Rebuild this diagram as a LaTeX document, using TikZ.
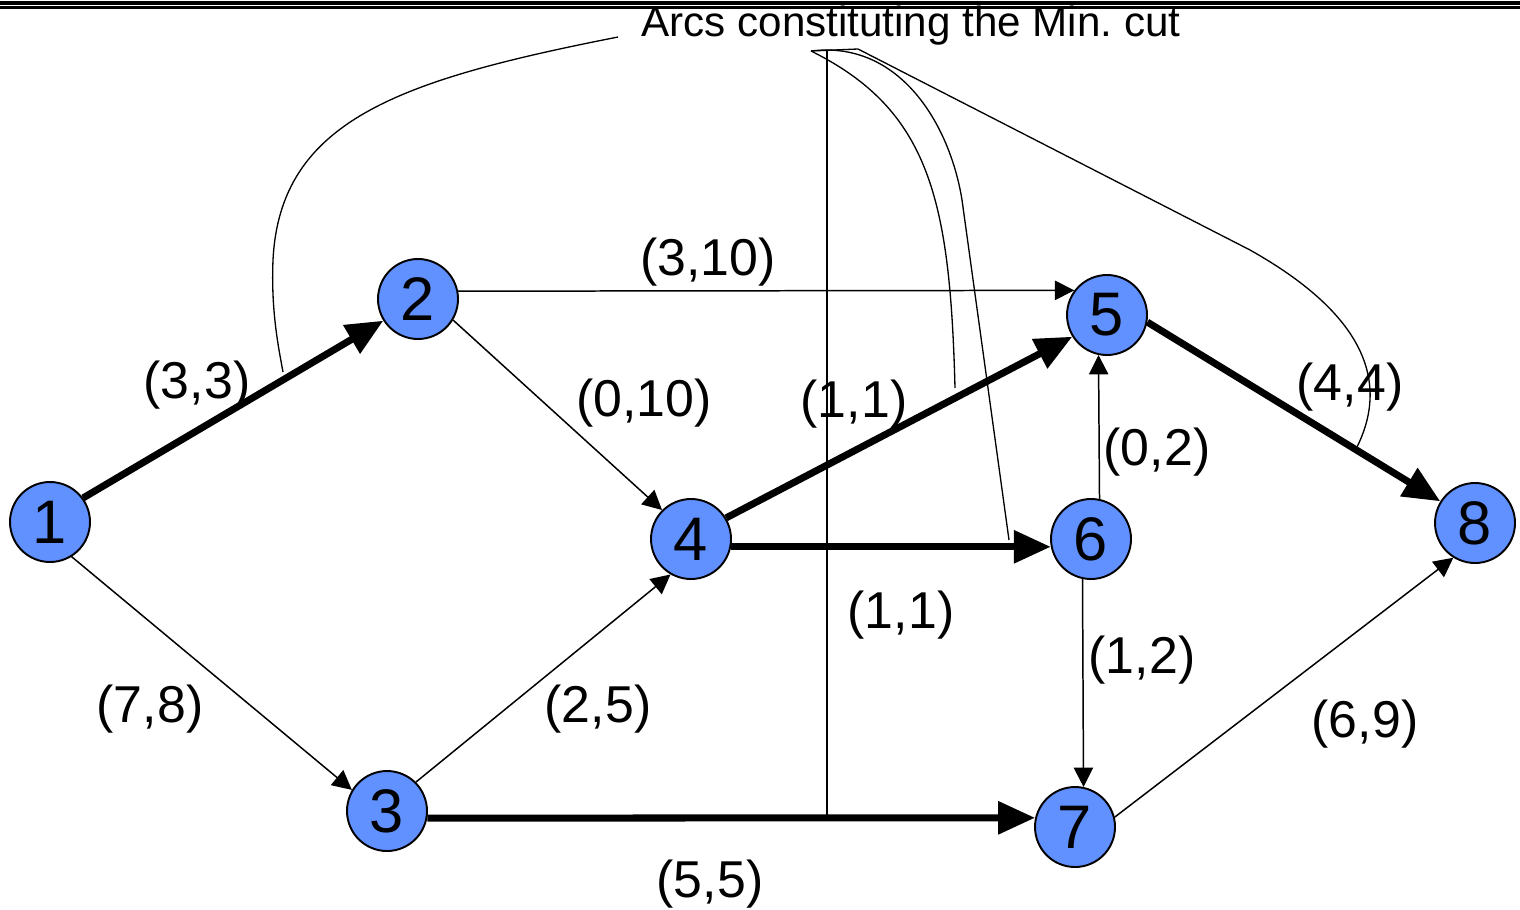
\documentclass[tikz,border=0pt]{standalone}
\usepackage{fontspec}
\setmainfont{Liberation Sans}
\usetikzlibrary{arrows.meta}
\definecolor{nodeblue}{RGB}{97,145,255}

\begin{document}
\begin{tikzpicture}[x=0.02cm, y=-0.02cm,
    vertex/.style={circle,draw,fill=nodeblue,line width=1.1pt,minimum size=1.6cm,
                   inner sep=0pt,font=\fontsize{35}{38}\selectfont},
    flow/.style={-{Triangle[length=11pt,width=11pt]},line width=0.85pt},
    cutflow/.style={-{Triangle[length=21pt,width=18pt]},line width=4pt},
    arclabel/.style={anchor=base,inner sep=0pt,font=\fontsize{29.5}{34}\selectfont},
    callout/.style={line width=0.75pt}
]
  \useasboundingbox (0,0) rectangle (1520,909);

  % Rules at the top
  \draw[line width=2.1pt] (0,2.8) -- (1520,2.8);
  \draw[line width=1.7pt] (0,7.5) -- (1520,7.5);

  % Nodes
  \node[vertex] (n1) at (50,522) {1};
  \node[vertex] (n2) at (418,299) {2};
  \node[vertex] (n3) at (387,811) {3};
  \node[vertex] (n4) at (691,539) {4};
  \node[vertex] (n5) at (1107,315) {5};
  \node[vertex] (n6) at (1091,539) {6};
  \node[vertex] (n7) at (1075,827) {7};
  \node[vertex] (n8) at (1475,523) {8};

  % Arcs not in the cut
  \draw[flow] (n1.-58) -- (n3.149);
  \draw[flow] (n2.11.5) -- (n5.143);
  \draw[flow] (n2.-31) -- (n4.135);
  \draw[flow] (n3.45) -- (n4.240);
  \draw[flow] (n6.78.5) -- (n5.258.5);
  \draw[flow] (n6.258.5) -- (n7.78.5);
  \draw[flow] (n7.14) -- (n8.238);

  % Saturated arcs
  \draw[cutflow] (n1.36) -- (n2.212);
  \draw[cutflow] (n3.-10) -- (n7.167);
  \draw[cutflow] (n4.31) -- (n5.212);
  \draw[cutflow] (n4.-11) -- (n6.191);
  \draw[cutflow] (n5.-10) -- (n8.148);

  % Labels (flow,capacity)
  \node[arclabel] (l12) at (197,398) {(3,3)};
  \node[arclabel] (l13) at (150,722) {(7,8)};
  \node[arclabel] (l25) at (708,275) {(3,10)};
  \node[arclabel] (l24) at (644,416) {(0,10)};
  \node[arclabel] (l45) at (854,417) {(1,1)};
  \node[arclabel] (l34) at (598,722) {(2,5)};
  \node[arclabel] (l37) at (710,897) {(5,5)};
  \node[arclabel] (l46) at (901,628) {(1,1)};
  \node[arclabel] (l65) at (1157,465) {(0,2)};
  \node[arclabel] (l67) at (1142,673) {(1,2)};
  \node[arclabel] (l78) at (1365,737) {(6,9)};
  \node[arclabel] (l58) at (1350,400) {(4,4)};

  % Callout
  \node[anchor=base,inner sep=0pt,font=\fontsize{24}{28}\selectfont] (cuttitle) at (911,37)
    {Arcs constituting the Min.\ cut};
  \coordinate (hookL) at (618,37);
  \coordinate (hookA) at (811,51);
  \coordinate (hookB) at (858,49);
  \coordinate (hookV) at (827,50);
  \coordinate (cut12) at (283,372);
  \coordinate (cut45) at (955,388);
  \coordinate (cut46) at (1009,540);
  \coordinate (cut37) at (827,818);
  \coordinate (cut58) at (1357,447);

  \draw[callout] (hookL) .. controls (400,80) and (280,120) .. (273,260)
                 .. controls (271,310) and (278,345) .. (cut12);
  \draw[callout] (hookA) -- (hookB);
  \draw[callout] (hookV) -- (cut37);
  \draw[callout] (hookA) .. controls (930,110) and (950,200) .. (cut45);
  \draw[callout] (hookA) .. controls (900,40) and (950,125) .. (962,200) -- (cut46);
  \draw[callout] (hookB) -- (1250,250) .. controls (1330,295) and (1400,360) .. (cut58);
\end{tikzpicture}
\end{document}
